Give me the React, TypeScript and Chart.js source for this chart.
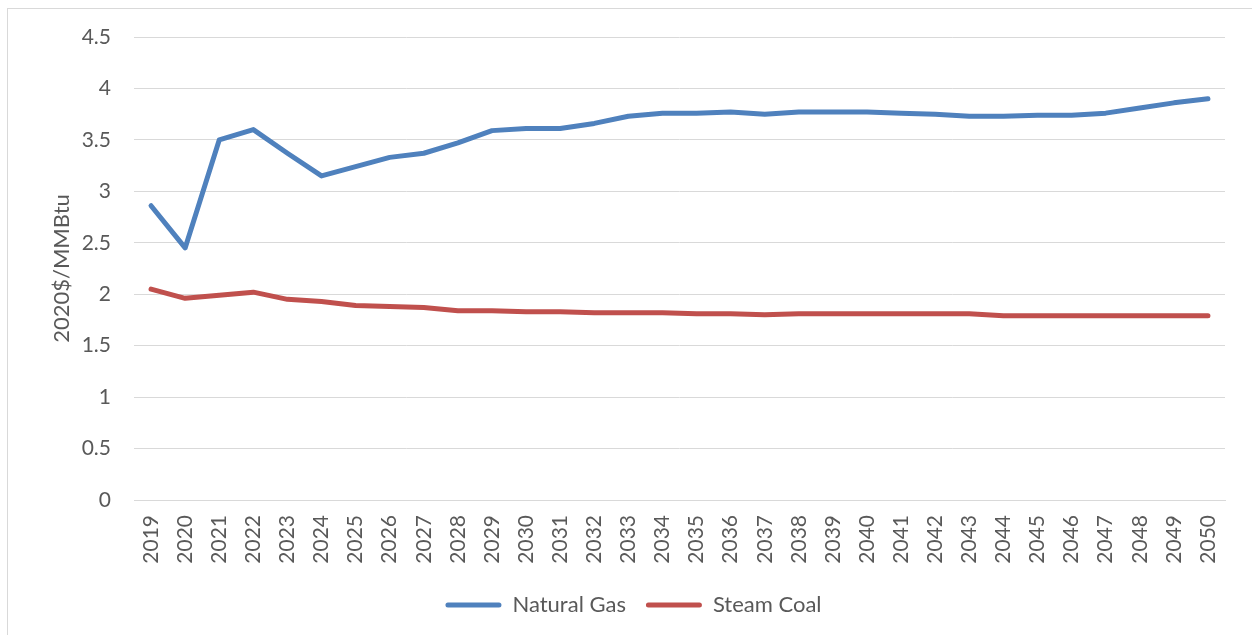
import React, { useEffect, useRef } from "react";
import { Chart, registerables } from "chart.js";

Chart.register(...registerables);

const years = [
  "2019", "2020", "2021", "2022", "2023", "2024", "2025", "2026", "2027", "2028",
  "2029", "2030", "2031", "2032", "2033", "2034", "2035", "2036", "2037", "2038",
  "2039", "2040", "2041", "2042", "2043", "2044", "2045", "2046", "2047", "2048",
  "2049", "2050",
];

const naturalGas = [
  2.86, 2.45, 3.5, 3.6, 3.37, 3.15, 3.24, 3.33, 3.37, 3.47,
  3.59, 3.61, 3.61, 3.66, 3.73, 3.76, 3.76, 3.77, 3.75, 3.77,
  3.77, 3.77, 3.76, 3.75, 3.73, 3.73, 3.74, 3.74, 3.76, 3.81,
  3.86, 3.9,
];

const steamCoal = [
  2.05, 1.96, 1.99, 2.02, 1.95, 1.93, 1.89, 1.88, 1.87, 1.84,
  1.84, 1.83, 1.83, 1.82, 1.82, 1.82, 1.81, 1.81, 1.8, 1.81,
  1.81, 1.81, 1.81, 1.81, 1.81, 1.79, 1.79, 1.79, 1.79, 1.79,
  1.79, 1.79,
];

const yMin = 0;
const yMax = 4.5;
const yStep = 0.5;
const yTitle = "2020$/MMBtu";
const seriesNames = ["Natural Gas", "Steam Coal"];

const FONT = "Lato, 'Open Sans', sans-serif";
const TEXT = "#595959";
const GRID = "#D9D9D9";

export default function App() {
  const ref = useRef<HTMLCanvasElement>(null);

  useEffect(() => {
    document.documentElement.style.overflow = "hidden";
    document.body.style.overflow = "hidden";
    const chart = new Chart(ref.current!, {
      type: "line",
      data: {
        labels: years,
        datasets: [
          {
            label: seriesNames[0],
            data: naturalGas,
            borderColor: "#4F81BD",
            backgroundColor: "#4F81BD",
            borderWidth: 5,
            borderCapStyle: "round",
            borderJoinStyle: "round",
            pointRadius: 0,
            tension: 0,
          },
          {
            label: seriesNames[1],
            data: steamCoal,
            borderColor: "#C0504D",
            backgroundColor: "#C0504D",
            borderWidth: 5,
            borderCapStyle: "round",
            borderJoinStyle: "round",
            pointRadius: 0,
            tension: 0,
          },
        ],
      },
      options: {
        responsive: false,
        animation: false,
        layout: { padding: { left: 42, right: 27, top: 37, bottom: 9 } },
        plugins: {
          tooltip: { enabled: false },
          title: { display: false },
          legend: {
            position: "bottom",
            labels: {
              color: TEXT,
              font: { family: FONT, size: 22 },
              boxWidth: 56,
              boxHeight: 5,
              padding: 20,
              useBorderRadius: true,
              borderRadius: 2.5,
              generateLabels: (c: any) =>
                (Chart.defaults.plugins.legend.labels as any)
                  .generateLabels(c)
                  .map((l: any) => ({ ...l, fillStyle: l.strokeStyle, lineWidth: 0 })),
            },
          },
        },
        scales: {
          x: {
            type: "category",
            offset: true,
            grid: { display: false, drawTicks: false, offset: true },
            border: { display: true, color: GRID, width: 1 },
            ticks: {
              autoSkip: false,
              minRotation: 90,
              maxRotation: 90,
              padding: 15,
              color: TEXT,
              font: { family: FONT, size: 21 },
            },
            afterFit: (s: any) => {
              s.height = 74;
            },
          },
          y: {
            min: yMin,
            max: yMax,
            ticks: {
              stepSize: yStep,
              padding: 23,
              color: TEXT,
              font: { family: FONT, size: 21 },
              callback: (v: any) => String(Number(v)),
            },
            grid: { color: GRID, lineWidth: 1, drawTicks: false },
            border: { display: false },
            title: {
              display: true,
              text: yTitle,
              color: TEXT,
              font: { family: FONT, size: 22 },
              padding: { top: 7, bottom: 0 },
            },
            afterFit: (s: any) => {
              s.width = 92;
            },
          },
        },
      } as any,
    });
    return () => chart.destroy();
  }, []);

  return (
    <div style={{ position: "fixed", left: 0, top: 0, width: 1252, height: 635, overflow: "hidden", background: "#fff" }}>
      <div
        style={{
          position: "absolute",
          left: 7,
          top: 8,
          width: 1300,
          height: 700,
          border: "1px solid #D9D9D9",
          boxSizing: "border-box",
        }}
      />
      <canvas
        ref={ref}
        width={1252}
        height={635}
        style={{ position: "absolute", left: 0, top: 0, width: 1252, height: 635 }}
      />
    </div>
  );
}
